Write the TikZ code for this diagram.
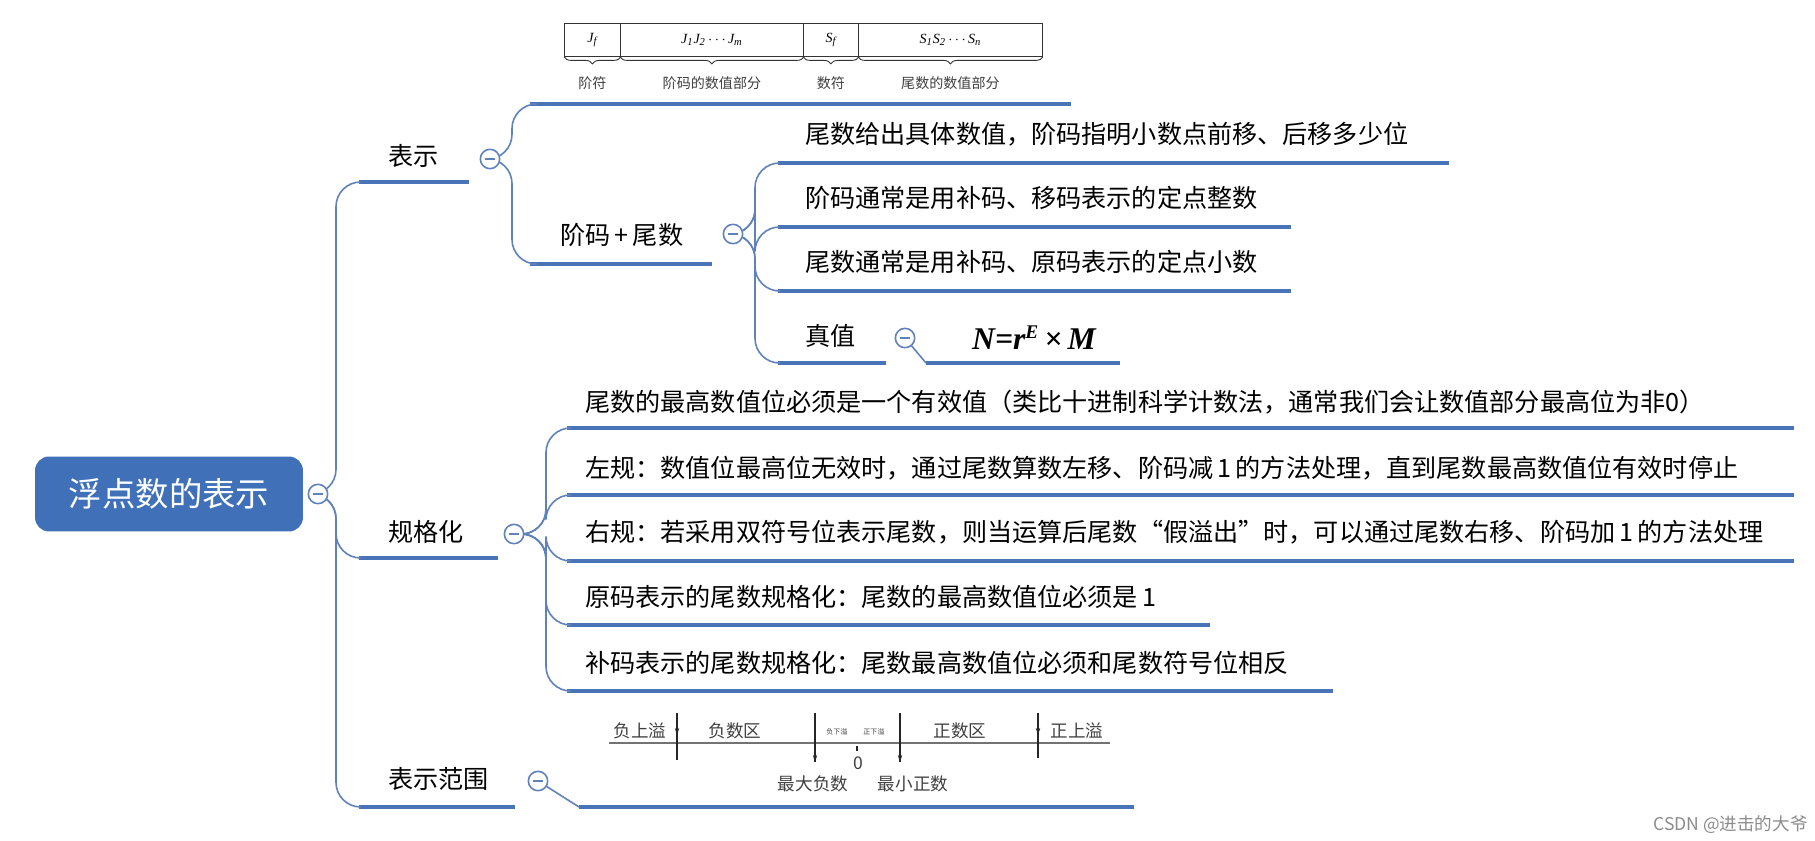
\documentclass[tikz,border=0pt]{standalone}
\usepackage{fontspec}
\setmainfont{Noto Sans CJK SC}
\newfontfamily\fserif{Liberation Serif}
\usetikzlibrary{decorations.pathreplacing,arrows.meta}
\definecolor{barblue}{HTML}{4A74B8}
\definecolor{lineblue}{HTML}{5F82BC}
\definecolor{rootblue}{HTML}{3F70B8}
\tikzset{
 bar/.style={draw=barblue,line width=2.6pt},
 conn/.style={draw=lineblue,line width=0.9pt,rounded corners=14},
 lab/.style={anchor=base west,inner sep=0pt,font=\fontsize{14.3}{17}\selectfont},
 col/.style={circle,draw=lineblue,line width=0.9pt,minimum size=11pt,inner sep=0pt,fill=white},
 cell/.style={draw=black!80,line width=0.5pt,minimum height=0.66cm,inner sep=0pt,font=\fserif\fontsize{8}{9}\selectfont\itshape},
 small/.style={inner sep=0pt,font=\fontsize{8}{9}\selectfont,text=black!75},
}
\newcommand{\colmark}{\tikz\draw[lineblue,line width=0.9pt](-3pt,0)--(3pt,0);}
\begin{document}
\begin{tikzpicture}[x=0.02cm,y=-0.02cm]
\useasboundingbox[fill=white] (0,0) rectangle (1815,841);
% root
\node[fill=rootblue,rounded corners=8pt,minimum width=5.36cm,minimum height=1.5cm,text=white,font=\fontsize{19}{22}\selectfont] (root) at (169,494) {浮点数的表示};
\coordinate (rce) at (318,494);
\coordinate (c1e) at (490,159);
\coordinate (c2e) at (514,534);
\coordinate (c3e) at (538,781);
\coordinate (c4e) at (733,234);
\coordinate (c5e) at (905,338);
% level 1
\node[lab] (t1) at (388,166) {表示};
\draw[bar] (359,182) -- (469,182);
\node[lab] (t2) at (388,541) {规格化};
\draw[bar] (359,558) -- (498,558);
\node[lab] (t3) at (388,788) {表示范围};
\draw[bar] (359,807) -- (515,807);
\coordinate (t1s) at (359,182);
\coordinate (t2s) at (359,558);
\coordinate (t3s) at (359,807);
\draw[conn] (rce) -- (336,494) |- (t1s);
\draw[conn] (rce) -- (336,494) |- (t2s);
\draw[conn] (rce) -- (336,494) |- (t3s);
% 表示 children
\coordinate (a1) at (530,104);
\coordinate (a2) at (530,264);
\draw[bar] (a1) -- (1071,104);
\node[lab] (tj) at (560,245) {阶码\,+\,尾数};
\draw[bar] (a2) -- (712,264);
\draw[conn] (c1e) -- (512,159) |- (a1);
\draw[conn] (c1e) -- (512,159) |- (a2);
% format table
\node[cell,anchor=north west,minimum width=1.12cm] (f1) at (564,23) {J\textsubscript{f}};
\node[cell,anchor=north west,minimum width=3.66cm] (f2) at (620,23) {J\textsubscript{1}J\textsubscript{2}\,$\cdots$\,J\textsubscript{m}};
\node[cell,anchor=north west,minimum width=1.1cm] (f3) at (803,23) {S\textsubscript{f}};
\node[cell,anchor=north west,minimum width=3.68cm] (f4) at (858,23) {S\textsubscript{1}S\textsubscript{2}\,$\cdots$\,S\textsubscript{n}};
\foreach \n in {f1,f2,f3,f4}{
 \draw[decorate,decoration={brace,mirror,amplitude=4pt},black!80,line width=0.5pt] (\n.south west) -- (\n.south east);
}
\node[small] at (f1.south |- 0,83) {阶符};
\node[small] at (f2.south |- 0,83) {阶码的数值部分};
\node[small] at (f3.south |- 0,83) {数符};
\node[small] at (f4.south |- 0,83) {尾数的数值部分};
% 阶码+尾数 children
\coordinate (b1) at (778,163);
\coordinate (b2) at (778,227);
\coordinate (b3) at (778,291);
\coordinate (b4) at (778,363);
\node[lab] at (805,144) {尾数给出具体数值，阶码指明小数点前移、后移多少位};
\draw[bar] (b1) -- (1449,163);
\node[lab] at (805,208) {阶码通常是用补码、移码表示的定点整数};
\draw[bar] (b2) -- (1291,227);
\node[lab] at (805,272) {尾数通常是用补码、原码表示的定点小数};
\draw[bar] (b3) -- (1291,291);
\node[lab] at (805,345) {真值};
\draw[bar] (b4) -- (886,363);
\coordinate (fm) at (926,363);
\draw[bar] (fm) -- (1120,363);
\node[inner sep=0pt,font=\fserif\fontsize{18}{20}\selectfont\bfseries\itshape] (frm) at (1034,338) {N=r\textsuperscript{\fontsize{11}{12}\selectfont E}\,×\,M};
\draw[conn] (c5e) -- (fm);
\foreach \b in {b1,b2,b3,b4}{\draw[conn] (c4e) -- (755,234) |- (\b);}
% 规格化 children
\coordinate (g1) at (567,428);
\coordinate (g2) at (567,495);
\coordinate (g3) at (567,561);
\coordinate (g4) at (567,625);
\coordinate (g5) at (567,691);
\node[lab] at (585,411) {尾数的最高数值位必须是一个有效值（类比十进制科学计数法，通常我们会让数值部分最高位为非0）};
\node[lab] at (585,477) {左规：数值位最高位无效时，通过尾数算数左移、阶码减\,1\,的方法处理，直到尾数最高数值位有效时停止};
\node[lab] at (585,541) {右规：若采用双符号位表示尾数，则当运算后尾数“假溢出”时，可以通过尾数右移、阶码加\,1\,的方法处理};
\node[lab] at (585,606) {原码表示的尾数规格化：尾数的最高数值位必须是\,1};
\node[lab] at (585,672) {补码表示的尾数规格化：尾数最高数值位必须和尾数符号位相反};
\draw[bar] (g1) -- (1794,428);
\draw[bar] (g2) -- (1794,495);
\draw[bar] (g3) -- (1794,561);
\draw[bar] (g4) -- (1210,625);
\draw[bar] (g5) -- (1333,691);
\foreach \g in {g1,g2,g3,g4,g5}{\draw[conn] (c2e) -- (546,534) |- (\g);}
% 表示范围 child
\coordinate (h1) at (579,807);
\draw[bar] (h1) -- (1134,807);
\draw[conn] (c3e) -- (h1);
% collapse circles on top
\node[col] (rc) at (rce) {\colmark};
\node[col] (c1) at (c1e) {\colmark};
\node[col] (c2) at (c2e) {\colmark};
\node[col] (c3) at (c3e) {\colmark};
\node[col] (c4) at (c4e) {\colmark};
\node[col] (c5) at (c5e) {\colmark};
% range diagram
\draw[black!55,line width=1.2pt] (609,743) -- (1110,743);
\tikzset{tk/.style={black!85,line width=0.6pt},ah/.style={-{Stealth[length=4pt,width=2.5pt]},black!85,line width=0.6pt}}
\draw[tk] (677,713) -- (677,760); \draw[ah] (677,713) -- (677,735);
\draw[tk] (815,713) -- (815,762); \draw[ah] (815,745) -- (815,762);
\draw[tk] (900,713) -- (900,762); \draw[ah] (900,745) -- (900,762);
\draw[tk] (1038,713) -- (1038,758); \draw[ah] (1038,713) -- (1038,735);
\draw[tk] (857,746) -- (857,751);
\node[small,font=\fontsize{10}{12}\selectfont] at (640,731) {负上溢};
\node[small,font=\fontsize{10}{12}\selectfont] at (735,731) {负数区};
\node[small,font=\fontsize{4}{5}\selectfont] at (837,732) {负下溢};
\node[small,font=\fontsize{4}{5}\selectfont] at (874,732) {正下溢};
\node[small,font=\fontsize{10}{12}\selectfont] at (960,731) {正数区};
\node[small,font=\fontsize{10}{12}\selectfont] at (1077,731) {正上溢};
\node[small,font=\fontsize{10}{12}\selectfont] at (858,763) {0};
\node[small,font=\fontsize{10}{12}\selectfont] at (813,784) {最大负数};
\node[small,font=\fontsize{10}{12}\selectfont] at (913,784) {最小正数};
% watermark
\node[anchor=base east,inner sep=0pt,text=black!45,font=\fontsize{10}{12}\selectfont] at (1808,830) {CSDN @进击的大爷};
\end{tikzpicture}
\end{document}
